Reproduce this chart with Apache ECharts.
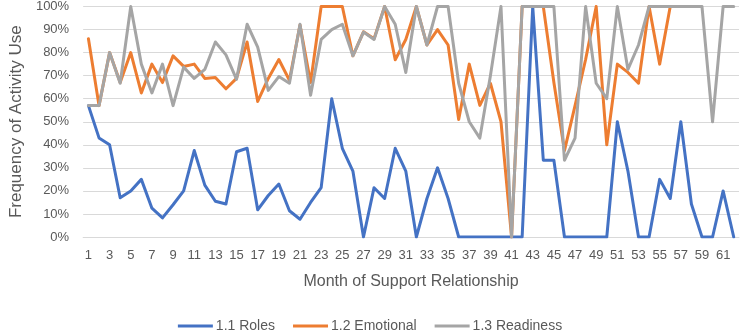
<!DOCTYPE html>
<html>
<head>
<meta charset="utf-8">
<script src="https://cdn.jsdelivr.net/npm/echarts@6.0.0/dist/echarts.min.js"></script>
<style>
html, body { margin: 0; padding: 0; background: #fff; }
#chart { width: 740px; height: 331px; }
</style>
</head>
<body>
<div id="chart"></div>
<script>
var months = []
for (var i = 1; i <= 62; i++) months.push(String(i))

var seriesNames = ['1.1 Roles', '1.2 Emotional', '1.3 Readiness']

var roles = [57, 43, 40, 17, 20, 25, 12.5, 8.3, 14, 20,
    37.5, 22.5, 15.5, 14.3, 37, 38.5, 11.8, 18, 23, 11.4,
    7.7, 15, 21.4, 60, 38.5, 28.6, 0, 21.4, 16.7, 38.5,
    28.6, 0, 16.7, 30, 16.7, 0, 0, 0, 0, 0,
    0, 0, 100, 33.3, 33.3, 0, 0, 0, 0, 0,
    50, 28.6, 0, 0, 25, 16.7, 50, 14.3, 0, 0,
    20, 0]

var emotional = [86, 57, 80, 67, 80, 62.5, 75, 67, 78.6, 74,
    75, 68.8, 69.2, 64.3, 68.8, 84.6, 58.8, 68.8, 77, 68,
    92, 67, 100, 100, 100, 78.6, 89, 86, 100, 76.9,
    85.7, 100, 83.3, 90, 83.3, 51, 75, 57.1, 66.7, 50,
    0, 100, 100, 100, 67, 37.5, 57, 77, 100, 40,
    75, 71.4, 66.7, 100, 75, 100, 100, 100, null, null,
    null, null]

var readiness = [57, 57, 80, 66.7, 100, 75, 62.5, 75, 57, 73.7,
    68.8, 72.7, 84.6, 79, 68.4, 92.3, 82.4, 63.6, 69.6, 66.7,
    92.3, 61.5, 85.7, 90, 92.3, 78.6, 88.9, 85.7, 100, 92.3,
    71.4, 100, 83.3, 100, 100, 66.7, 50, 42.9, 70, 100,
    0, 100, 100, 100, 100, 33.3, 42.9, 100, 66.7, 60,
    100, 72.7, 83.3, 100, 100, 100, 100, 100, 100, 50,
    100, 100]

var colors = ['#4472C4', '#ED7D31', '#A5A5A5']

var font = 'Liberation Sans'

var makeLine = function (name, data, color) {
    return {
        name: name,
        type: 'line',
        data: data,
        symbol: 'none',
        smooth: false,
        connectNulls: false,
        lineStyle: { width: 3, color: color, cap: 'round', join: 'round' },
        itemStyle: { color: color }
    }
}

var chart = echarts.init(document.getElementById('chart'), null, { renderer: 'canvas' })
chart.setOption({
    animation: false,
    textStyle: { fontFamily: font },
    grid: { left: 70, right: 1, top: 6, bottom: 94 },
    legend: {
        data: seriesNames,
        top: 314,
        left: 'center',
        icon: 'rect',
        itemWidth: 35,
        itemHeight: 3,
        itemGap: 18,
        textStyle: { color: '#595959', fontSize: 14, fontFamily: font, padding: [0, 0, 0, -2] }
    },
    xAxis: {
        type: 'category',
        data: months,
        boundaryGap: true,
        name: 'Month of Support Relationship',
        nameLocation: 'middle',
        nameGap: 37,
        nameTextStyle: { color: '#595959', fontSize: 16, fontFamily: font },
        axisLine: { lineStyle: { color: '#D9D9D9', width: 1 } },
        axisTick: { show: false },
        axisLabel: { interval: 1, color: '#595959', fontSize: 13, margin: 12, fontFamily: font }
    },
    yAxis: {
        type: 'value',
        min: 0,
        max: 100,
        interval: 10,
        name: 'Frequency of Activity Use',
        nameLocation: 'middle',
        nameGap: 50,
        nameTextStyle: { color: '#595959', fontSize: 17, fontFamily: font },
        axisLine: { show: false },
        axisTick: { show: false },
        axisLabel: { formatter: '{value}%', color: '#595959', fontSize: 13, margin: 14, fontFamily: font },
        splitLine: { lineStyle: { color: '#D9D9D9', width: 1 } }
    },
    series: [
        makeLine(seriesNames[0], roles, colors[0]),
        makeLine(seriesNames[1], emotional, colors[1]),
        makeLine(seriesNames[2], readiness, colors[2])
    ]
})
</script>
</body>
</html>
